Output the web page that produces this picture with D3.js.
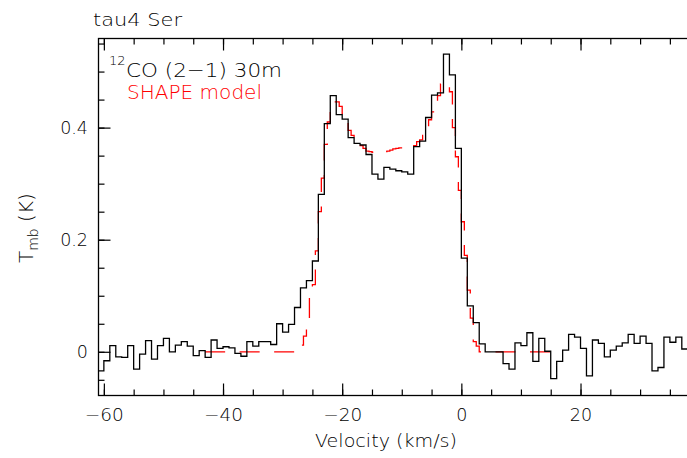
<!DOCTYPE html>
<html>
<head>
<meta charset="utf-8">
<script src="https://cdn.jsdelivr.net/npm/d3@7"></script>
<style>
  body { margin: 0; background: #fff; }
  text { font-family: "DejaVu Sans", "Liberation Sans", sans-serif; font-weight: 200; }
</style>
</head>
<body>
<div id="chart"></div>
<script>
// observed 12CO (2-1) spectrum, 1 km/s channels starting at obsStart
const obsStart = -61;
const obsWidth = 1.0;
const obsT = [
  -0.034, -0.016, 0.011, -0.009, -0.010, 0.011, -0.031, -0.004, 0.020, -0.013,
  0.011, 0.024, 0.000, 0.012, 0.018, 0.010, -0.007, 0.002, -0.010, 0.021,
  0.006, 0.009, 0.007, -0.003, -0.008, 0.018, 0.010, 0.018, 0.018, 0.013,
  0.050, 0.035, 0.049, 0.079, 0.114, 0.127, 0.162, 0.281, 0.407, 0.457,
  0.423, 0.415, 0.382, 0.372, 0.369, 0.352, 0.317, 0.308, 0.329, 0.326,
  0.323, 0.321, 0.317, 0.366, 0.376, 0.418, 0.458, 0.462, 0.531, 0.494,
  0.363, 0.167, 0.082, 0.052, 0.014, 0.000, 0.000, 0.000, -0.021, -0.031,
  0.016, 0.011, 0.034, -0.017, 0.024, 0.001, -0.048, -0.017, 0.003, 0.031,
  0.026, 0.006, -0.043, 0.021, 0.015, -0.009, 0.003, 0.010, 0.016, 0.031,
  0.015, 0.028, 0.015, -0.034, -0.028, 0.026, 0.017, 0.026, 0.005
];

// SHAPE model, 0.5 km/s bins starting at modelStart, drawn over modelRange
const modelStart = -27.5;
const modelWidth = 0.5;
const modelRange = [-43, 17.2];
const modelT = [
  0.000, 0.012, 0.028, 0.045, 0.100, 0.120, 0.180, 0.250, 0.310, 0.370,
  0.410, 0.430, 0.446, 0.446, 0.438, 0.425, 0.415, 0.395, 0.386, 0.378,
  0.373, 0.368, 0.363, 0.358, 0.357, 0.356, 0.355, 0.355, 0.356, 0.357,
  0.358, 0.360, 0.362, 0.363, 0.364, 0.364, 0.365, 0.365, 0.364, 0.368,
  0.375, 0.378, 0.386, 0.400, 0.414, 0.428, 0.440, 0.457, 0.478, 0.480,
  0.475, 0.464, 0.400, 0.348, 0.288, 0.232, 0.172, 0.110, 0.060, 0.018,
  0.010, 0.000
];

const xMajor = [-60, -40, -20, 0, 20];
const xMinor = d3.range(-60, 40, 5);
const yMajor = [0, 0.2, 0.4];
const yMinor = d3.range(-0.05, 0.56, 0.05);

const width = 687, height = 458;
const plot = { left: 98.5, right: 688, top: 38.5, bottom: 395.5 };

const x = d3.scaleLinear().domain([-60.9, 38.04]).range([plot.left, plot.right]);
const y = d3.scaleLinear().domain([-0.078, 0.559]).range([plot.bottom, plot.top]);

const svg = d3.select("#chart")
  .append("svg")
  .attr("width", width)
  .attr("height", height);

svg.append("defs").append("clipPath")
  .attr("id", "plotclip")
  .append("rect")
  .attr("x", plot.left).attr("y", plot.top)
  .attr("width", plot.right - plot.left).attr("height", plot.bottom - plot.top);

// step points for a histogram
function steps(start, w, vals) {
  const pts = [];
  vals.forEach((t, i) => {
    pts.push([start + i * w, t]);
    pts.push([start + (i + 1) * w, t]);
  });
  return pts;
}

const line = d3.line().x(d => x(d[0])).y(d => y(d[1]));

// model (red dashed)
const modelPts = [[modelRange[0], 0]]
  .concat(steps(modelStart, modelWidth, modelT))
  .concat([[modelRange[1], 0]]);

svg.append("path")
  .attr("clip-path", "url(#plotclip)")
  .attr("d", line(modelPts))
  .attr("fill", "none")
  .attr("stroke", "#ff0000")
  .attr("stroke-width", 1.3)
  .attr("stroke-dasharray", "20 14.5");

// observed spectrum (black)
svg.append("path")
  .attr("clip-path", "url(#plotclip)")
  .attr("d", line(steps(obsStart, obsWidth, obsT)))
  .attr("fill", "none")
  .attr("stroke", "#000")
  .attr("stroke-width", 1.3);

// axes: ticks point inward
const fs = 17.5;
function styleAxis(g) {
  g.select(".domain").remove();
  g.selectAll("line").attr("stroke", "#000").attr("stroke-width", 1.2);
  g.selectAll("text").attr("fill", "#000").attr("font-size", fs)
    .attr("font-family", null);
}

svg.append("g")
  .attr("transform", `translate(0,${plot.bottom})`)
  .call(d3.axisBottom(x).tickValues(xMinor).tickSize(-6).tickFormat(""))
  .call(styleAxis);
svg.append("g")
  .attr("transform", `translate(0,${plot.bottom})`)
  .call(d3.axisBottom(x).tickValues(xMajor).tickSize(-12).tickPadding(13)
    .tickFormat(d => d < 0 ? "\u2212" + Math.abs(d) : d))
  .call(styleAxis);
svg.append("g")
  .attr("transform", `translate(0,${plot.top})`)
  .call(d3.axisTop(x).tickValues(xMinor).tickSize(-6).tickFormat(""))
  .call(styleAxis);
svg.append("g")
  .attr("transform", `translate(0,${plot.top})`)
  .call(d3.axisTop(x).tickValues(xMajor).tickSize(-12).tickFormat(""))
  .call(styleAxis);

svg.append("g")
  .attr("transform", `translate(${plot.left},0)`)
  .call(d3.axisLeft(y).tickValues(yMinor).tickSize(-6).tickFormat(""))
  .call(styleAxis);
svg.append("g")
  .attr("transform", `translate(${plot.left},0)`)
  .call(d3.axisLeft(y).tickValues(yMajor).tickSize(-12).tickPadding(10.5)
    .tickFormat(d => d === 0 ? "0" : d3.format(".1f")(d)))
  .call(styleAxis);

// wide minus signs like the original
svg.selectAll("text").filter(function () { return this.textContent.startsWith("\u2212"); })
  .attr("textLength", 39).attr("lengthAdjust", "spacingAndGlyphs");

// frame
svg.append("rect")
  .attr("x", plot.left).attr("y", plot.top)
  .attr("width", plot.right - plot.left).attr("height", plot.bottom - plot.top)
  .attr("fill", "none").attr("stroke", "#000").attr("stroke-width", 1.3);

// labels
svg.append("text")
  .attr("x", 93).attr("y", 26)
  .attr("font-size", 18).attr("fill", "#000")
  .attr("textLength", 89).attr("lengthAdjust", "spacingAndGlyphs")
  .text("tau4 Ser");

svg.append("text")
  .attr("x", 109).attr("y", 65)
  .attr("font-size", 13).attr("fill", "#000")
  .text("12");
svg.append("text")
  .attr("x", 126).attr("y", 76.5)
  .attr("font-size", 20).attr("fill", "#000")
  .attr("textLength", 156).attr("lengthAdjust", "spacingAndGlyphs")
  .text("CO (2\u22121) 30m");

svg.append("text")
  .attr("x", 127).attr("y", 98.5)
  .attr("font-size", 20).attr("fill", "#ff0000")
  .attr("textLength", 135).attr("lengthAdjust", "spacingAndGlyphs")
  .text("SHAPE model");

svg.append("text")
  .attr("x", 315).attr("y", 447)
  .attr("font-size", 18).attr("fill", "#000")
  .attr("textLength", 142).attr("lengthAdjust", "spacingAndGlyphs")
  .text("Velocity (km/s)");

const ylab = svg.append("text")
  .attr("transform", "translate(33,263) rotate(-90)")
  .attr("font-size", 20).attr("fill", "#000");
ylab.append("tspan").text("T");
ylab.append("tspan").attr("font-size", 14).attr("dy", 5).text("mb");
ylab.append("tspan").attr("dy", -5).text(" (K)");
</script>
</body>
</html>
